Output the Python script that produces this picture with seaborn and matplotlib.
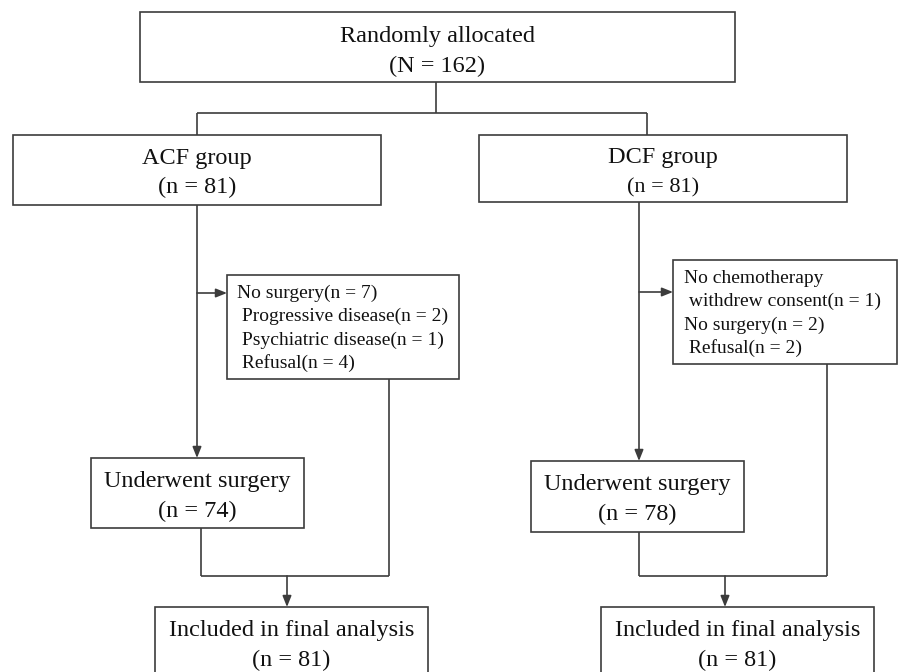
"""CONSORT-style flow diagram: ACF vs DCF allocation."""
import matplotlib.pyplot as plt
import seaborn as sns
from matplotlib.patches import Rectangle

# ---- data -------------------------------------------------------------
total_n = 162
groups = ["ACF", "DCF"]
allocated_n = [81, 81]
surgery_n = [74, 78]
analysed_n = [81, 81]
acf_excl_labels = ["No surgery", " Progressive disease", " Psychiatric disease", " Refusal"]
acf_excl_n = [7, 2, 1, 4]
dcf_excl_labels = ["No chemotherapy", " withdrew consent", "No surgery", " Refusal"]
dcf_excl_n = [None, 1, 2, 2]

# ---- style ------------------------------------------------------------
sns.set_theme(style="white")
plt.rcParams["font.family"] = ["Liberation Serif", "DejaVu Serif"]
LINE = "#3c3c3c"
TXT = "#111111"
LW = 1.2

fig = plt.figure(figsize=(8.98, 6.72), dpi=100)
ax = fig.add_axes([0, 0, 1, 1])
ax.set_xlim(0, 898)
ax.set_ylim(672, 0)
ax.axis("off")


def box(x0, y0, x1, y1):
    ax.add_patch(Rectangle((x0, y0), x1 - x0, y1 - y0, facecolor="white",
                           edgecolor=LINE, lw=LW, zorder=2))


def centered(lines, x, y_first, step, sizes):
    if not isinstance(sizes, (list, tuple)):
        sizes = [sizes] * len(lines)
    for i, s in enumerate(lines):
        ax.text(x, y_first + i * step, s, ha="center", va="baseline",
                fontsize=sizes[i], color=TXT, zorder=3)


def line(xs, ys):
    ax.plot(xs, ys, color=LINE, lw=LW, solid_capstyle="butt", zorder=1)


def arrow(x0, y0, x1, y1):
    ax.annotate("", xy=(x1, y1), xytext=(x0, y0), zorder=1,
                arrowprops=dict(arrowstyle="-|>,head_length=0.55,head_width=0.22",
                                color=LINE, lw=LW, shrinkA=0, shrinkB=0))


def fmt(n):
    return f"(n = {n})"


# top box (baselines given)
box(140, 12, 735, 82)
centered(["Randomly allocated", f"(N = {total_n})"], 437, 42, 30, 17.5)
line([436, 436], [82, 113])
line([197, 647], [113, 113])
line([197, 197], [113, 135])
line([647, 647], [113, 135])

# per-arm layout: group box, stem, side box, surgery box, final box
cols = [
    dict(g=(13, 135, 381, 205), g_base=164, g_sizes=[17.5, 17.5], stem=197,
         side=(227, 275, 459, 379), side_x=237, side_base=298, arrow_y=293,
         side_stem=389, surg=(91, 458, 304, 528), surg_base=487, surg_stem=201,
         join=287, final=(155, 607, 428, 700), excl=(acf_excl_labels, acf_excl_n)),
    dict(g=(479, 135, 847, 202), g_base=163, g_sizes=[17.5, 16], stem=639,
         side=(673, 260, 897, 364), side_x=684, side_base=283, arrow_y=292,
         side_stem=827, surg=(531, 461, 744, 532), surg_base=490, surg_stem=639,
         join=725, final=(601, 607, 874, 700), excl=(dcf_excl_labels, dcf_excl_n)),
]

for i, c in enumerate(cols):
    gx0, gy0, gx1, gy1 = c["g"]
    box(*c["g"])
    centered([f"{groups[i]} group", fmt(allocated_n[i])], (gx0 + gx1) / 2,
             c["g_base"], 29, c["g_sizes"])

    # main path down to surgery box
    sx0, sy0, sx1, sy1 = c["surg"]
    arrow(c["stem"], gy1, c["stem"], sy0)
    arrow(c["stem"], c["arrow_y"], c["side"][0], c["arrow_y"])

    # exclusion box
    box(*c["side"])
    labels, counts = c["excl"]
    for k, (lab, n) in enumerate(zip(labels, counts)):
        s = lab if n is None else f"{lab}({fmt(n)[1:-1]})"
        ax.text(c["side_x"], c["side_base"] + k * 23.3, s, ha="left", va="baseline",
                fontsize=14, color=TXT, zorder=3)

    box(*c["surg"])
    centered(["Underwent surgery", fmt(surgery_n[i])], (sx0 + sx1) / 2,
             c["surg_base"], 30, 17.5)

    # join into final analysis
    line([c["side_stem"], c["side_stem"]], [c["side"][3], 576])
    line([c["surg_stem"], c["surg_stem"]], [sy1, 576])
    line([c["surg_stem"], c["side_stem"]], [576, 576])
    fx0, fy0, fx1, fy1 = c["final"]
    arrow(c["join"], 576, c["join"], fy0)
    box(*c["final"])
    centered(["Included in final analysis", fmt(analysed_n[i])], (fx0 + fx1) / 2,
             636, 30, 17.5)

fig.savefig("out.png", dpi=100)
